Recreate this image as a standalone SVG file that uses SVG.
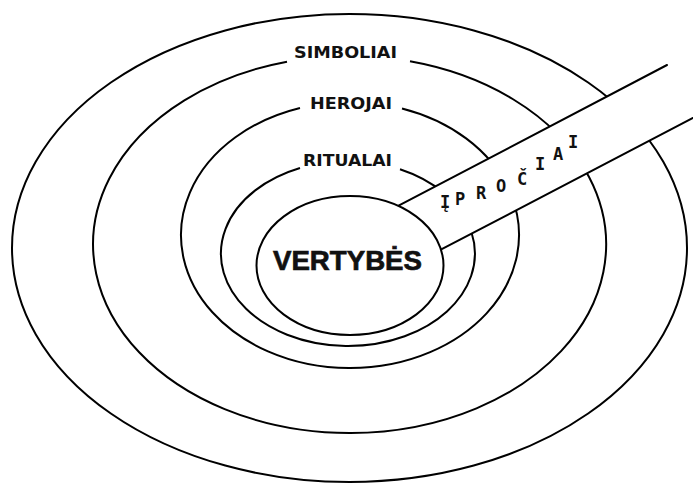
<svg xmlns="http://www.w3.org/2000/svg" width="693" height="483" viewBox="0 0 693 483">
  <style>
    .ring { fill: none; stroke: #000; stroke-width: 2; }
    .core { fill: #fff; stroke: #000; stroke-width: 2; }
    .band { fill: #fff; stroke: none; }
    .edge { stroke: #000; stroke-width: 2; fill: none; stroke-linecap: round; }
    .lbl { font-family: "DejaVu Sans", Verdana, sans-serif; font-weight: bold; font-size: 16px; fill: #111; }
    .core-lbl { font-family: "Liberation Sans", Arial, sans-serif; font-weight: bold; font-size: 28px; fill: #111; stroke: #111; stroke-width: 0.7; }
    .band-lbl { font-family: "DejaVu Sans Mono", "DejaVu Sans", monospace; font-weight: bold; font-size: 17px; fill: #111; text-anchor: middle; }
  </style>
  <rect width="693" height="483" fill="#fff"/>

  <g id="outer">
    <ellipse class="ring" cx="349.5" cy="248" rx="337.5" ry="234"/>
  </g>
  <g id="simboliai">
    <path class="ring" d="M 410 61.3 A 256.5 188.5 0 1 1 287 61.7"/>
    <text class="lbl" x="294" y="58" textLength="103" lengthAdjust="spacingAndGlyphs">SIMBOLIAI</text>
  </g>
  <g id="herojai">
    <path class="ring" d="M 402 108.5 A 169 133 0 1 1 300 108"/>
    <text class="lbl" x="310" y="109" textLength="82" lengthAdjust="spacingAndGlyphs">HEROJAI</text>
  </g>
  <g id="ritualai">
    <path class="ring" d="M 400 169.3 A 127 92.4 0 1 1 300 168"/>
    <text class="lbl" x="303" y="166" textLength="89" lengthAdjust="spacingAndGlyphs">RITUALAI</text>
  </g>

  <g id="iprociai">
    <polygon class="band" points="390,210.2 667,65 720,37.2 720,103.9 435,252.7"/>
    <line class="edge" x1="390" y1="210.2" x2="667" y2="65"/>
    <line class="edge" x1="435" y1="252.7" x2="700" y2="114.3"/>
    <text class="band-lbl" x="445 460 481 501 522 540 558 573" y="208 205 199 192 185 170 160 148">ĮPROČIAI</text>
  </g>

  <g id="vertybes">
    <ellipse class="core" cx="350" cy="265.5" rx="93.5" ry="69.5"/>
    <text class="core-lbl" x="273" y="270" textLength="149" lengthAdjust="spacingAndGlyphs">VERTYBĖS</text>
  </g>
</svg>
